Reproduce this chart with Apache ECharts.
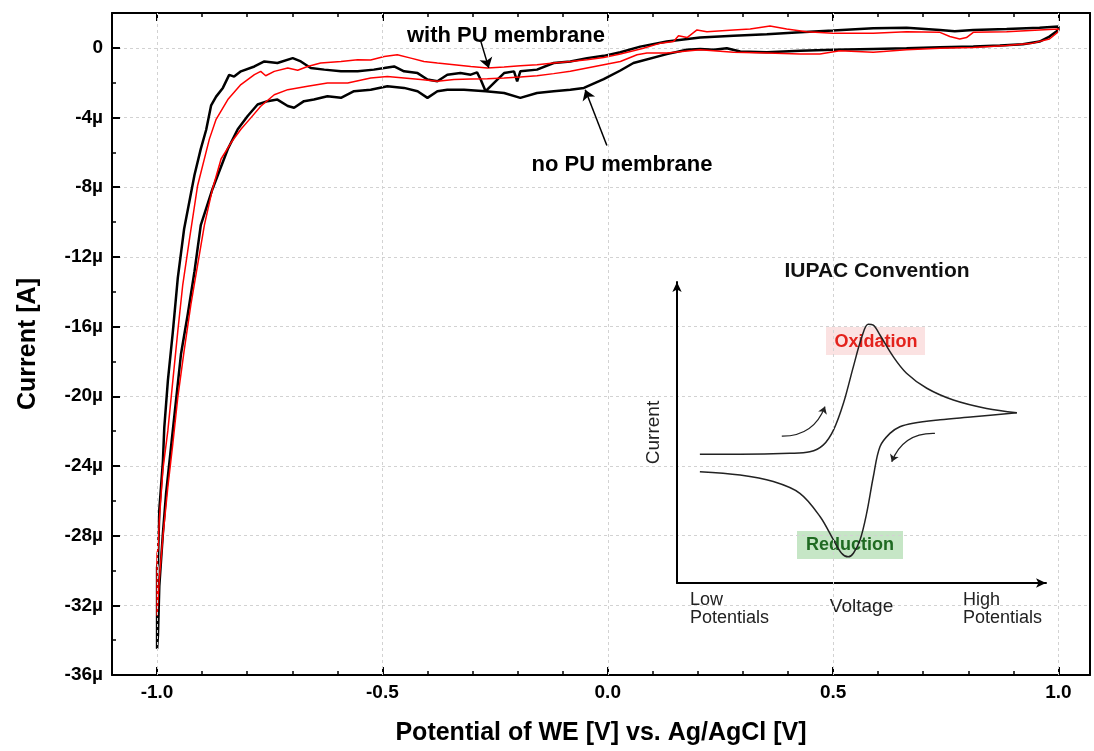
<!DOCTYPE html>
<html><head><meta charset="utf-8">
<script src="https://cdn.jsdelivr.net/npm/echarts@6/dist/echarts.min.js"></script>
<style>html,body{margin:0;padding:0;background:#fff}#c{width:1094px;height:751px}</style>
</head><body><div id="c"></div>
<script>
// ---- data (potential V, current µA) ----
const noMembrane = [
[-1.000,-29.8],[-0.998,-29.5],[-0.995,-26.5],[-0.987,-23.7],[-0.984,-21.8],[-0.976,-19.1],[-0.965,-16.3],[-0.954,-13.2],[-0.940,-10.4],[-0.917,-7.3],[-0.903,-5.8],[-0.891,-4.7],[-0.880,-3.3],[-0.869,-2.8],[-0.854,-2.3],[-0.840,-1.55],[-0.829,-1.65],[-0.814,-1.35],[-0.784,-1.07],[-0.762,-0.78],[-0.733,-0.87],[-0.699,-0.59],[-0.681,-0.78],[-0.659,-1.16],[-0.629,-1.25],[-0.592,-1.35],[-0.555,-1.35],[-0.519,-1.25],[-0.496,-1.16],[-0.474,-1.07],[-0.452,-1.35],[-0.422,-1.45],[-0.400,-1.82],[-0.378,-1.92],[-0.356,-1.54],[-0.327,-1.45],[-0.304,-1.54],[-0.290,-1.41],[-0.282,-1.82],[-0.271,-2.49],[-0.245,-1.82],[-0.230,-1.45],[-0.208,-1.35],[-0.201,-1.92],[-0.194,-1.35],[-0.157,-1.25],[-0.120,-0.87],[-0.083,-0.78],[-0.046,-0.59],[-0.009,-0.46],[0.028,-0.25],[0.072,0.07],[0.131,0.36],[0.205,0.59],[0.279,0.70],[0.353,0.78],[0.427,0.89],[0.500,0.99],[0.589,1.12],[0.663,1.16],[0.737,1.03],[0.770,0.95],[0.811,1.03],[0.885,1.08],[0.958,1.16],[1.000,1.22],
[1.000,1.03],[0.980,0.65],[0.958,0.36],[0.921,0.21],[0.870,0.13],[0.811,0.07],[0.737,0.04],[0.663,-0.02],[0.589,-0.06],[0.500,-0.11],[0.427,-0.17],[0.353,-0.25],[0.294,-0.21],[0.264,-0.02],[0.235,-0.11],[0.205,-0.06],[0.175,-0.11],[0.131,-0.36],[0.057,-0.87],[0.028,-1.30],[-0.009,-1.80],[-0.053,-2.30],[-0.083,-2.40],[-0.120,-2.49],[-0.157,-2.59],[-0.194,-2.87],[-0.230,-2.59],[-0.271,-2.49],[-0.319,-2.40],[-0.356,-2.40],[-0.378,-2.49],[-0.400,-2.87],[-0.422,-2.49],[-0.452,-2.30],[-0.489,-2.21],[-0.526,-2.40],[-0.563,-2.49],[-0.592,-2.87],[-0.622,-2.78],[-0.652,-2.97],[-0.674,-3.06],[-0.696,-3.44],[-0.710,-3.34],[-0.733,-2.97],[-0.755,-3.06],[-0.777,-3.25],[-0.799,-3.91],[-0.821,-4.67],[-0.843,-5.81],[-0.877,-8.10],[-0.903,-10.18],[-0.917,-12.84],[-0.932,-15.31],[-0.947,-17.59],[-0.958,-20.25],[-0.969,-22.91],[-0.980,-25.57],[-0.987,-27.85],[-0.995,-30.88],[-0.998,-33.70],[-1.000,-34.50],[-1.000,-29.8]
];
const withMembrane = [
[-1.000,-29.0],[-0.998,-28.8],[-0.995,-27.1],[-0.987,-24.2],[-0.976,-21.96],[-0.965,-19.1],[-0.954,-16.26],[-0.943,-13.6],[-0.928,-10.97],[-0.910,-7.9],[-0.884,-5.24],[-0.869,-4.10],[-0.843,-2.97],[-0.814,-2.11],[-0.784,-1.54],[-0.770,-1.35],[-0.759,-1.60],[-0.740,-1.35],[-0.710,-1.16],[-0.688,-1.29],[-0.666,-1.07],[-0.637,-0.87],[-0.592,-0.78],[-0.555,-0.68],[-0.526,-0.70],[-0.496,-0.50],[-0.467,-0.40],[-0.437,-0.59],[-0.408,-0.78],[-0.378,-0.87],[-0.341,-0.97],[-0.304,-1.07],[-0.267,-1.16],[-0.230,-1.10],[-0.194,-1.03],[-0.157,-0.97],[-0.120,-0.87],[-0.083,-0.78],[-0.046,-0.68],[-0.009,-0.55],[0.028,-0.35],[0.057,-0.17],[0.079,-0.02],[0.117,0.27],[0.146,0.36],[0.157,0.70],[0.176,0.59],[0.198,1.03],[0.220,0.93],[0.279,1.03],[0.316,1.08],[0.360,1.25],[0.397,1.08],[0.441,0.93],[0.500,0.84],[0.589,0.84],[0.663,0.93],[0.737,0.89],[0.759,0.65],[0.781,0.51],[0.796,0.59],[0.811,0.89],[0.885,0.93],[0.958,1.03],[1.000,1.08],
[1.000,0.93],[0.980,0.51],[0.943,0.27],[0.885,0.13],[0.811,0.02],[0.737,-0.02],[0.663,-0.11],[0.589,-0.25],[0.515,-0.17],[0.471,-0.36],[0.427,-0.36],[0.353,-0.30],[0.279,-0.25],[0.205,-0.11],[0.131,-0.30],[0.087,-0.30],[0.065,-0.40],[0.028,-0.78],[-0.009,-0.97],[-0.046,-1.16],[-0.083,-1.35],[-0.120,-1.48],[-0.157,-1.60],[-0.194,-1.67],[-0.230,-1.73],[-0.267,-1.77],[-0.304,-1.79],[-0.341,-1.82],[-0.378,-1.92],[-0.415,-1.82],[-0.452,-1.73],[-0.489,-1.64],[-0.526,-1.73],[-0.577,-2.02],[-0.622,-2.02],[-0.666,-2.21],[-0.710,-2.40],[-0.740,-2.69],[-0.770,-3.35],[-0.792,-4.02],[-0.814,-4.67],[-0.836,-5.45],[-0.858,-6.38],[-0.877,-8.10],[-0.895,-10.18],[-0.910,-12.46],[-0.925,-14.74],[-0.940,-17.40],[-0.954,-20.06],[-0.965,-22.72],[-0.976,-25.19],[-0.987,-28.04],[-0.995,-30.50],[-1.000,-32.60],[-1.000,-29.0]
];
const xMajorTicks = [-1.0, -0.5, 0.0, 0.5, 1.0];
const labelArrows = [
  [[-0.282, 0.40], [-0.264, -1.15]],
  [[-0.002, -5.60], [-0.050, -2.40]]
];
// IUPAC cartoon inset (arbitrary 0-100 units)
const iupacForward = [[6.2,42.8],[17.1,42.8],[30.6,43.1],[36.0,43.6],[39.6,45.8],[42.4,50.8],[45.1,59.7],[47.8,71.9],[50.1,81.8],[51.8,86.0],[53.2,85.7],[55.0,82.4],[58.6,75.2],[62.2,69.7],[67.7,64.7],[74.9,60.8],[83.9,58.0],[92.1,56.6]];
const iupacReverse = [[92.1,56.6],[80.3,55.2],[71.3,54.2],[64.0,53.1],[60.4,51.9],[57.7,49.7],[55.0,45.3],[53.2,35.3],[51.4,23.2],[49.6,14.3],[47.8,9.9],[46.4,8.7],[44.6,9.9],[42.4,14.3],[38.8,22.0],[33.3,29.8],[26.1,33.7],[17.1,35.9],[6.2,37.0]];
const iupacArrows = [[[28.4,48.8],[40.1,58.6]], [[69.9,49.7],[58.2,40.3]]];

const FONT = '"Liberation Sans", Arial, sans-serif';
const chart = echarts.init(document.getElementById('c'), null, {renderer: 'canvas'});

const boldTick = {fontFamily: FONT, fontWeight: 'bold', fontSize: 19, color: '#000'};
function xLabel(v) {
  const k = v * 2;
  if (Math.abs(k - Math.round(k)) < 1e-6 && v > -1.001 && v < 1.001) return (Math.round(k) / 2).toFixed(1);
  return '';
}
function yLabel(v) {
  const r = Math.round(v);
  if (Math.abs(v - r) < 1e-6 && r % 4 === 0 && r <= 0) return r === 0 ? '0' : r + 'µ';
  return '';
}
const frameLine = {show: true, onZero: false, lineStyle: {color: '#000', width: 2}};
const noLine = {show: false, onZero: false};

const option = {
  animation: false,
  backgroundColor: '#fff',
  grid: [
    {left: 112, top: 13, width: 978, height: 667, show: false},
    {left: 677, top: 282, width: 369, height: 301, show: false}
  ],
  xAxis: [
    {type: 'value', gridIndex: 0, position: 'bottom', min: -1.1, max: 1.07, interval: 0.1,
     axisLine: frameLine, axisTick: {show: true, inside: true, length: 4, lineStyle: {color: '#000', width: 1.5}},
     axisLabel: Object.assign({formatter: xLabel, margin: 8}, boldTick), splitLine: {show: false},
     name: 'Potential of WE [V] vs. Ag/AgCl [V]', nameLocation: 'middle', nameGap: 46,
     nameTextStyle: {fontFamily: FONT, fontWeight: 'bold', fontSize: 25, color: '#000'}},
    {type: 'value', gridIndex: 0, position: 'bottom', min: -1.1, max: 1.07,
     axisLine: noLine, axisTick: {show: true, inside: true, length: 8, customValues: xMajorTicks, lineStyle: {color: '#000', width: 2}},
     axisLabel: {show: false}, splitLine: {show: false}},
    {type: 'value', gridIndex: 0, position: 'top', min: -1.1, max: 1.07, interval: 0.1,
     axisLine: frameLine, axisTick: {show: true, inside: true, length: 4, lineStyle: {color: '#000', width: 1.5}},
     axisLabel: {show: false}, splitLine: {show: false}},
    {type: 'value', gridIndex: 0, position: 'top', min: -1.1, max: 1.07,
     axisLine: noLine, axisTick: {show: true, inside: true, length: 8, customValues: xMajorTicks, lineStyle: {color: '#000', width: 2}},
     axisLabel: {show: false}, splitLine: {show: false}},
    {type: 'value', gridIndex: 1, min: 0, max: 100,
     axisLine: {show: true, onZero: false, symbol: ['none', 'arrow'], symbolSize: [7, 10], lineStyle: {color: '#000', width: 2}},
     axisTick: {show: false}, axisLabel: {show: false}, splitLine: {show: false},
     name: 'Voltage', nameLocation: 'middle', nameGap: 14,
     nameTextStyle: {fontFamily: FONT, fontSize: 19, color: '#222'}}
  ],
  yAxis: [
    {type: 'value', gridIndex: 0, position: 'left', min: -36, max: 2, interval: 2,
     axisLine: frameLine, axisTick: {show: true, inside: true, length: 4, lineStyle: {color: '#000', width: 1.5}},
     axisLabel: Object.assign({formatter: yLabel, margin: 9}, boldTick), splitLine: {show: false},
     name: 'Current [A]', nameLocation: 'middle', nameGap: 71, nameRotate: 90,
     nameTextStyle: {fontFamily: FONT, fontWeight: 'bold', fontSize: 25, color: '#000'}},
    {type: 'value', gridIndex: 0, position: 'left', min: -36, max: 2, interval: 4,
     axisLine: noLine, axisTick: {show: true, inside: true, length: 8, lineStyle: {color: '#000', width: 2}},
     axisLabel: {show: false},
     splitLine: {show: true, lineStyle: {color: '#d2d2d2', width: 1, type: [3, 3]}}},
    {type: 'value', gridIndex: 0, position: 'right', min: -36, max: 2,
     axisLine: frameLine, axisTick: {show: false}, axisLabel: {show: false}, splitLine: {show: false}},
    {type: 'value', gridIndex: 1, min: 0, max: 100,
     axisLine: {show: true, onZero: false, symbol: ['none', 'arrow'], symbolSize: [7, 10], lineStyle: {color: '#000', width: 2}},
     axisTick: {show: false}, axisLabel: {show: false}, splitLine: {show: false},
     name: 'Current', nameLocation: 'middle', nameGap: 14, nameRotate: 90,
     nameTextStyle: {fontFamily: FONT, fontSize: 19, color: '#222'}}
  ],
  series: [
    {type: 'line', xAxisIndex: 0, yAxisIndex: 0, data: [], z: 1, silent: true,
     markLine: {silent: true, symbol: 'none', label: {show: false},
       lineStyle: {color: '#d2d2d2', width: 1, type: [3, 3]},
       data: xMajorTicks.map(v => ({xAxis: v}))}},
    {name: 'no PU membrane', type: 'line', xAxisIndex: 0, yAxisIndex: 0, data: noMembrane,
     symbol: 'none', lineStyle: {color: '#000', width: 2.5}, z: 3},
    {name: 'with PU membrane', type: 'line', xAxisIndex: 0, yAxisIndex: 0, data: withMembrane,
     symbol: 'none', lineStyle: {color: '#ff0000', width: 1.5}, z: 4},
    {type: 'lines', coordinateSystem: 'cartesian2d', xAxisIndex: 0, yAxisIndex: 0, silent: true, z: 5,
     symbol: ['none', 'arrow'], symbolSize: 10,
     lineStyle: {color: '#000', width: 1.5, opacity: 1, curveness: 0},
     data: labelArrows.map(c => ({coords: c}))},
    {type: 'line', xAxisIndex: 4, yAxisIndex: 3, data: iupacForward, smooth: 0.35,
     symbol: 'none', lineStyle: {color: '#222', width: 1.5}, z: 3},
    {type: 'line', xAxisIndex: 4, yAxisIndex: 3, data: iupacReverse, smooth: 0.35,
     symbol: 'none', lineStyle: {color: '#222', width: 1.5}, z: 3},
    {type: 'lines', coordinateSystem: 'cartesian2d', xAxisIndex: 4, yAxisIndex: 3, silent: true, z: 5,
     symbol: ['none', 'arrow'], symbolSize: 7,
     lineStyle: {color: '#222', width: 1.3, opacity: 1, curveness: -0.35},
     data: iupacArrows.map(c => ({coords: c}))}
  ],
  graphic: [
    {type: 'rect', z: 0, shape: {x: 826, y: 327, width: 99, height: 28}, style: {fill: '#fbe2e2'}},
    {type: 'rect', z: 0, shape: {x: 797, y: 531, width: 106, height: 28}, style: {fill: '#c6e6c6'}},
    {type: 'text', z: 1, x: 876, y: 342, style: {text: 'Oxidation', font: 'bold 18px ' + FONT, fill: '#e3221c', align: 'center', verticalAlign: 'middle', textAlign: 'center', textVerticalAlign: 'middle'}},
    {type: 'text', z: 1, x: 850, y: 545, style: {text: 'Reduction', font: 'bold 18px ' + FONT, fill: '#1f6a22', align: 'center', verticalAlign: 'middle', textAlign: 'center', textVerticalAlign: 'middle'}},
    {type: 'text', z: 6, x: 877, y: 271, style: {text: 'IUPAC Convention', font: 'bold 21px ' + FONT, fill: '#111', align: 'center', verticalAlign: 'middle', textAlign: 'center', textVerticalAlign: 'middle'}},
    {type: 'text', z: 6, x: 690, y: 591, style: {text: 'Low\nPotentials', font: '18px ' + FONT, lineHeight: 18, fill: '#222', align: 'left', verticalAlign: 'top', textAlign: 'left', textVerticalAlign: 'top'}},
    {type: 'text', z: 6, x: 963, y: 591, style: {text: 'High\nPotentials', font: '18px ' + FONT, lineHeight: 18, fill: '#222', align: 'left', verticalAlign: 'top', textAlign: 'left', textVerticalAlign: 'top'}},
    {type: 'text', z: 6, x: 506, y: 36, style: {text: 'with PU membrane', font: 'bold 22px ' + FONT, fill: '#000', align: 'center', verticalAlign: 'middle', textAlign: 'center', textVerticalAlign: 'middle'}},
    {type: 'text', z: 6, x: 622, y: 165, style: {text: 'no PU membrane', font: 'bold 22px ' + FONT, fill: '#000', align: 'center', verticalAlign: 'middle', textAlign: 'center', textVerticalAlign: 'middle'}}
  ]
};
chart.setOption(option);
</script>
</body></html>
